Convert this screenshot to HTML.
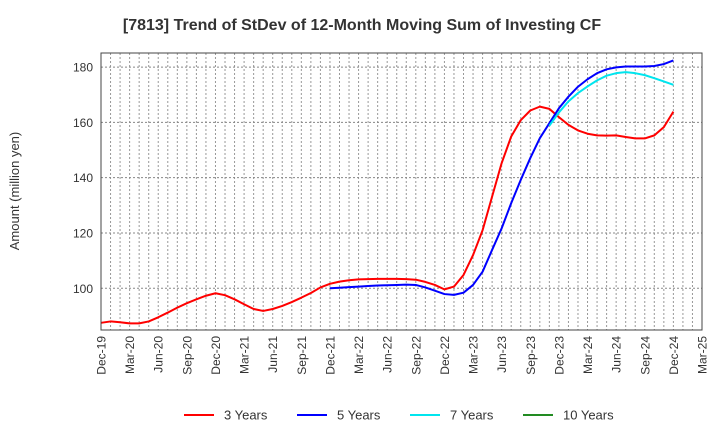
<!DOCTYPE html>
<html><head><meta charset="utf-8"><style>
html,body{margin:0;padding:0;background:#fff;}
svg text{font-family:"Liberation Sans",sans-serif;}
</style></head><body>
<svg id="chart" width="720" height="440" xmlns="http://www.w3.org/2000/svg">
<text x="362" y="30" text-anchor="middle" font-size="16" font-weight="bold" fill="#333">[7813]  Trend of StDev of 12-Month Moving Sum of Investing CF</text>
<text transform="translate(19,191) rotate(-90)" text-anchor="middle" font-size="13" fill="#333">Amount (million yen)</text>
<g id="grid"></g>
<g id="axes"></g>
<g id="series"></g>
<rect x="101" y="53" width="601" height="277" fill="none" stroke="#444" stroke-width="1"/>
<g id="legend"></g>
</svg>
<script>
const xLabels=["Dec-19","Mar-20","Jun-20","Sep-20","Dec-20","Mar-21","Jun-21","Sep-21","Dec-21","Mar-22","Jun-22","Sep-22","Dec-22","Mar-23","Jun-23","Sep-23","Dec-23","Mar-24","Jun-24","Sep-24","Dec-24","Mar-25"];
const yTicks=[100,120,140,160,180];
const series3=[87.5,88,87.7,87.3,87.3,88,89.5,91.2,93,94.6,96,97.3,98.2,97.5,96,94.2,92.5,91.8,92.5,93.6,95,96.6,98.3,100.3,101.6,102.4,102.9,103.2,103.3,103.4,103.4,103.4,103.3,103.1,102.3,101.2,99.6,100.6,104.8,112,121,133.2,145.3,154.9,160.8,164.3,165.7,164.9,161.9,159.1,157.1,155.9,155.3,155.2,155.3,154.7,154.2,154.2,155.3,158.3,163.9];
const series5=[null,null,null,null,null,null,null,null,null,null,null,null,null,null,null,null,null,null,null,null,null,null,null,null,100,100.2,100.4,100.6,100.8,101,101.1,101.2,101.3,101.2,100.3,99.1,97.9,97.6,98.4,101.2,106,113.9,121.7,130.8,139.2,147.1,154.3,159.7,165.1,169.3,172.9,175.6,177.8,179.2,179.9,180.2,180.2,180.2,180.4,181.1,182.4];
const series7=[null,null,null,null,null,null,null,null,null,null,null,null,null,null,null,null,null,null,null,null,null,null,null,null,null,null,null,null,null,null,null,null,null,null,null,null,null,null,null,null,null,null,null,null,null,null,null,158.8,163.6,167.6,170.6,173,175.2,176.9,177.8,178.2,177.8,177.1,176,174.8,173.6];
const series10=[];
const seriesNames=["3 Years","5 Years","7 Years","10 Years"];
const seriesColors=["#ff0000","#0000ff","#00e5ee","#228b22"];

const X0=101,X1=702,Y0=330,Y1=53,MONTHS=63,YMIN=84.9,YMAX=185.1;
const xs=i=>X0+(X1-X0)*i/MONTHS;
const ys=v=>Y0-(v-YMIN)/(YMAX-YMIN)*(Y0-Y1);
const NS="http://www.w3.org/2000/svg";
function mk(tag,attrs,parent){const e=document.createElementNS(NS,tag);for(const k in attrs)e.setAttribute(k,attrs[k]);parent.appendChild(e);return e;}
const grid=document.getElementById('grid'),axes=document.getElementById('axes'),ser=document.getElementById('series'),leg=document.getElementById('legend');
for(let m=1;m<MONTHS;m++){
 const l=mk('line',{x1:xs(m),x2:xs(m),y1:Y1,y2:Y0,stroke:'#999','stroke-width':1,'stroke-dasharray':'2,2'},grid);
 
 
}
yTicks.forEach(v=>{
 const l=mk('line',{x1:X0,x2:X1,y1:ys(v),y2:ys(v),stroke:'#888','stroke-width':1,'stroke-dasharray':'2,2'},grid);
 
 
 const t=mk('text',{x:X0-8,y:ys(v)+4.5,'text-anchor':'end','font-size':12,fill:'#333'},axes);
 t.textContent=v;
 
 
});
xLabels.forEach((lab,i)=>{
 const x=xs(i*3);
 const t=mk('text',{transform:`translate(${x+4.5},336) rotate(-90)`,'text-anchor':'end','font-size':12,fill:'#333'},axes);
 t.textContent=lab;
 
 
});
[series3,series5,series7,series10].forEach((arr,si)=>{
 let d='';let started=false;
 arr.forEach((v,i)=>{if(v==null){started=false;return;}d+=(started?'L':'M')+xs(i).toFixed(2)+','+ys(v).toFixed(2);started=true;});
 if(!d)return;
 const p=mk('path',{d:d,fill:'none',stroke:seriesColors[si],'stroke-width':2,'stroke-linejoin':'round'},ser);
 
 
});
const legX=[184,297,410,523];
seriesNames.forEach((n,i)=>{
 const l=mk('line',{x1:legX[i],x2:legX[i]+30,y1:415,y2:415,stroke:seriesColors[i],'stroke-width':2},leg);
 
 
 const t=mk('text',{x:legX[i]+40,y:419.5,'font-size':13,fill:'#333'},leg);
 t.textContent=n;
 
 
});
</script>
</body></html>
